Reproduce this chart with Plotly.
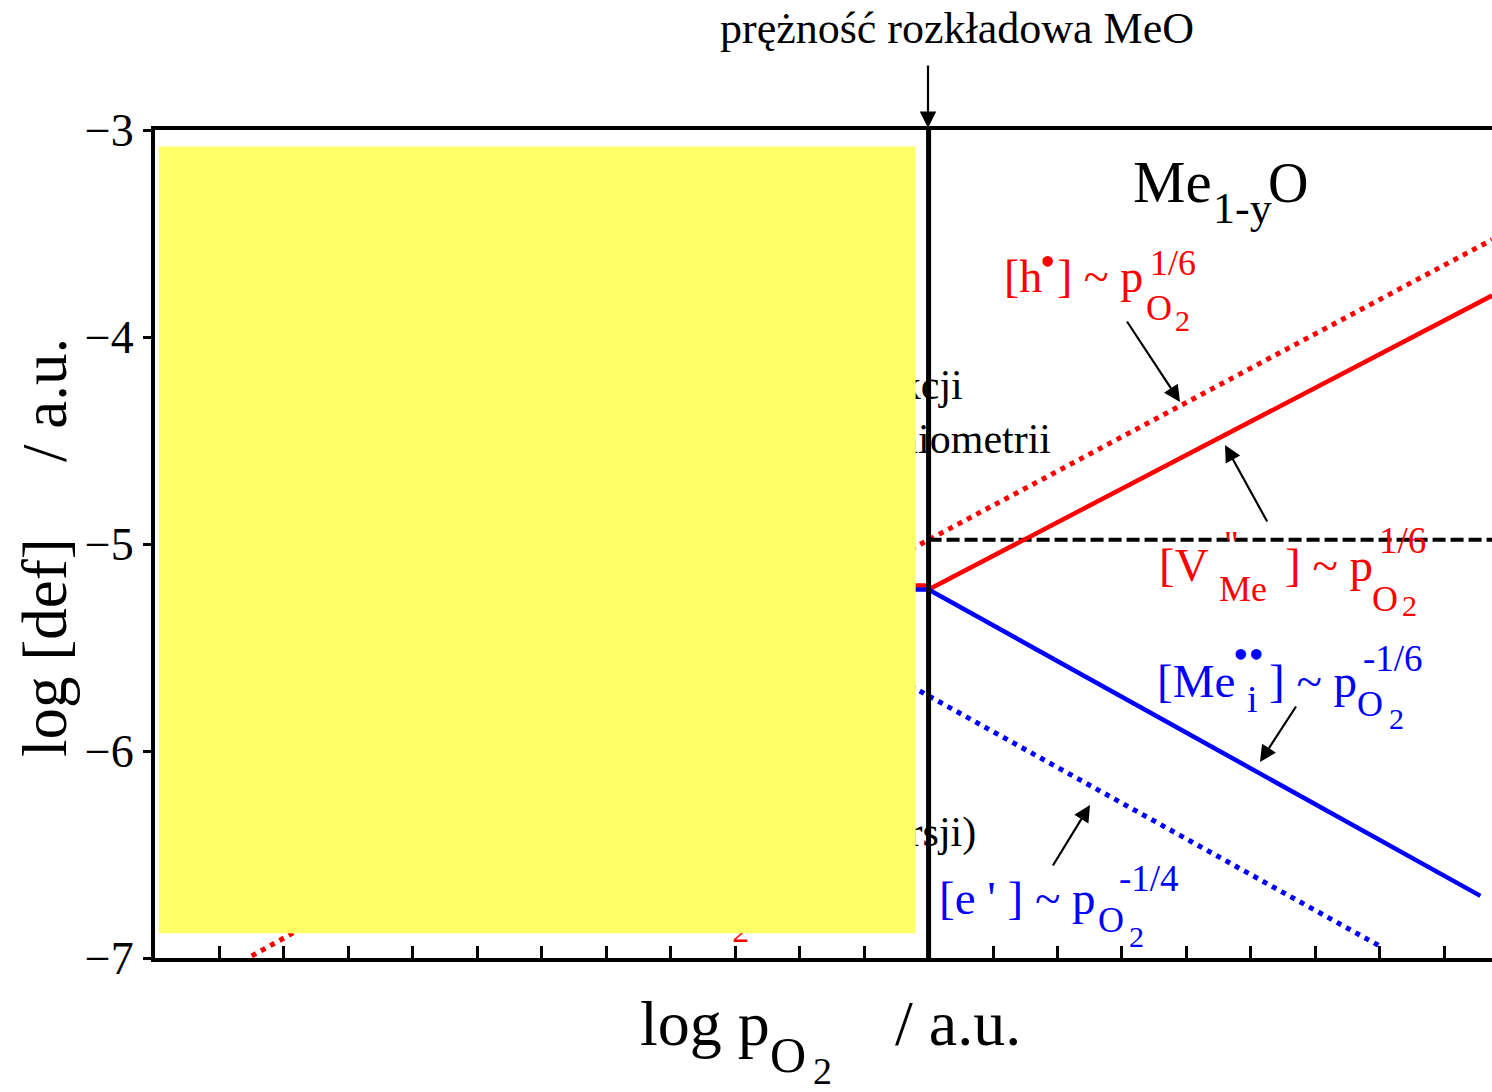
import plotly.graph_objects as go

# ---- data (log pO2 in tick units, log [def]) ----
# defect concentration lines of Me(1-y)O
vme_x = [-1.0, 0.0, 0.0, 8.74]          # [V''Me]  ~ pO2^(1/6)
vme_y = [-5.20, -5.20, -5.22, -3.80]
mei_x = [-1.0, 0.0, 8.56]               # [Me_i..] ~ pO2^(-1/6)
mei_y = [-5.22, -5.22, -6.70]
hole_x = [-1.0, 8.74]                   # [h.]     ~ pO2^(1/6)
hole_y = [-5.146, -3.530]
elec_x = [-1.0, 6.99]                   # [e']     ~ pO2^(-1/4)
elec_y = [-5.561, -6.941]
hole_left_x = [-10.50, -8.00]           # low-pO2 branch
hole_left_y = [-6.990, -6.557]
stoich_x = [0.0, 8.74]                  # stoichiometric level
stoich_y = [-4.98, -4.98]
decomp_x = [0.0, 0.0]                   # decomposition pressure of MeO
decomp_y = [-3.0, -7.0]

x_ticks = list(range(-12, 9))
y_ticks = [-3, -4, -5, -6, -7]
y_ticktext = ["\u22123", "\u22124", "\u22125", "\u22126", "\u22127"]

# region notes (partly covered)
note_text = ["reakcji", "stechiometrii", "inwersji)"]
note_x = [0.53, 1.90, 0.74]
note_y = [-4.25, -4.51, -6.41]

W, H = 1492, 1092
ML, MR, MT, MB = 155, 0, 130, 134
FONT = "Liberation Serif"
RED, BLUE, BLACK = "#FF0000", "#0000FF", "#000000"

fig = go.Figure()

fig.add_trace(go.Scatter(x=hole_x, y=hole_y, mode="lines",
                         line=dict(color=RED, width=5, dash="5px,5.6px")))
fig.add_trace(go.Scatter(x=hole_left_x, y=hole_left_y, mode="lines",
                         line=dict(color=RED, width=5, dash="5px,5.6px")))
fig.add_trace(go.Scatter(x=elec_x, y=elec_y, mode="lines",
                         line=dict(color=BLUE, width=5, dash="5px,5.6px")))
fig.add_trace(go.Scatter(x=stoich_x, y=stoich_y, mode="lines",
                         line=dict(color=BLACK, width=4, dash="13px,5px")))
fig.add_trace(go.Scatter(x=vme_x, y=vme_y, mode="lines",
                         line=dict(color=RED, width=4.5)))
fig.add_trace(go.Scatter(x=mei_x, y=mei_y, mode="lines",
                         line=dict(color=BLUE, width=4.5)))
fig.add_trace(go.Scatter(x=decomp_x, y=decomp_y, mode="lines",
                         line=dict(color=BLACK, width=5)))

# notes and a covered subscript, drawn under the highlight box
fig.add_trace(go.Scatter(x=note_x, y=note_y, mode="text", text=note_text,
                         textposition="middle left",
                         textfont=dict(family=FONT, size=42, color=BLACK)))
fig.add_trace(go.Scatter(x=[-2.915], y=[-6.884], mode="text", text=["2"],
                         textposition="middle center",
                         textfont=dict(family=FONT, size=34, color=RED)))

fig.add_shape(type="rect", x0=-11.94, x1=-0.20, y0=-6.88, y1=-3.08,
              fillcolor="#FFFF66", line=dict(width=0), layer="above")

ann = []


def pos(xp, yp):
    return (xp - ML) / (W - ML - MR), (H - MB - yp) / (H - MT - MB)


def put(text, left, base, size, color=BLACK):
    # place text by left edge and baseline (pixels)
    cx, cy = pos(left, base - 0.34 * size)
    ann.append(dict(text=text, x=cx, y=cy, xref="paper", yref="paper",
                    xanchor="left", yanchor="middle", showarrow=False,
                    font=dict(family=FONT, size=size, color=color)))


def put_c(text, xc, yc, size, color=BLACK, angle=0):
    cx, cy = pos(xc, yc)
    ann.append(dict(text=text, x=cx, y=cy, xref="paper", yref="paper",
                    xanchor="center", yanchor="middle", showarrow=False,
                    textangle=angle,
                    font=dict(family=FONT, size=size, color=color)))


def arrow(tip, tail):
    cx, cy = pos(*tip)
    ann.append(dict(text="", x=cx, y=cy, xref="paper", yref="paper",
                    ax=tail[0] - tip[0], ay=tail[1] - tip[1],
                    showarrow=True, arrowhead=2, arrowsize=1.5,
                    arrowwidth=2.2, arrowcolor=BLACK, standoff=0))


# header
put("pr\u0119\u017cno\u015b\u0107 rozk\u0142adowa MeO", 718, 43, 44)
arrow((928, 128), (928, 64))

# phase name
put("Me", 1131, 202, 59)
put("1-y", 1211, 223, 44)
put("O", 1266, 202, 56)

# [h.] ~ pO2^1/6
put("[h", 1002, 292, 46, RED)
put_c("\u2022", 1047, 261, 44, RED)
put("] ~ p", 1055, 292, 46, RED)
put("1/6", 1148, 275, 36, RED)
put("O", 1144, 320, 36, RED)
put("2", 1173, 331, 30, RED)
arrow((1180, 402), (1126, 320))

# [V''Me] ~ pO2^1/6
put("[V", 1157, 581, 47, RED)
put("\"", 1222, 556, 36, RED)
put("Me", 1217, 601, 36, RED)
put("] ~ p", 1283, 581, 47, RED)
put("1/6", 1377, 553, 37, RED)
put("O", 1370, 611, 36, RED)
put("2", 1400, 616, 30, RED)
arrow((1225, 445), (1268, 523))

# [Me_i..] ~ pO2^-1/6
put("[Me", 1155, 697, 47, BLUE)
put_c("\u2022\u2022", 1248, 655, 44, BLUE)
put("i", 1245, 712, 38, BLUE)
put("] ~ p", 1267, 697, 47, BLUE)
put("-1/6", 1361, 671, 37, BLUE)
put("O", 1355, 716, 36, BLUE)
put("2", 1387, 729, 30, BLUE)
arrow((1260, 762), (1297, 705))

# [e'] ~ pO2^-1/4
put("[e ' ] ~ p", 937, 914, 47, BLUE)
put("-1/4", 1117, 891, 37, BLUE)
put("O", 1096, 932, 36, BLUE)
put("2", 1127, 947, 30, BLUE)
arrow((1090, 805), (1052, 867))

# axis titles
put("log p", 638, 1045, 64)
put("O", 768, 1072, 50)
put("2", 811, 1084, 38)
put("/ a.u.", 893, 1045, 64)
put_c("log [def]", 45, 648, 63, angle=-90)
put_c("/ a.u.", 45, 400, 63, angle=-90)

fig.update_layout(
    width=W, height=H,
    margin=dict(l=ML, r=MR, t=MT, b=MB, pad=0),
    paper_bgcolor="white", plot_bgcolor="white",
    showlegend=False,
    annotations=ann,
    xaxis=dict(range=[-12, 8.74], showgrid=False, zeroline=False,
               showline=True, linecolor=BLACK, linewidth=4, mirror=True,
               ticks="inside", tickvals=x_ticks, ticklen=12, tickwidth=3,
               tickcolor=BLACK, showticklabels=False),
    yaxis=dict(range=[-7, -3], showgrid=False, zeroline=False,
               showline=True, linecolor=BLACK, linewidth=4,
               ticks="outside", tickvals=y_ticks, ticktext=y_ticktext,
               ticklen=8, tickwidth=3, tickcolor=BLACK,
               tickfont=dict(family=FONT, size=46, color=BLACK)),
)

fig.write_html("out.html")
